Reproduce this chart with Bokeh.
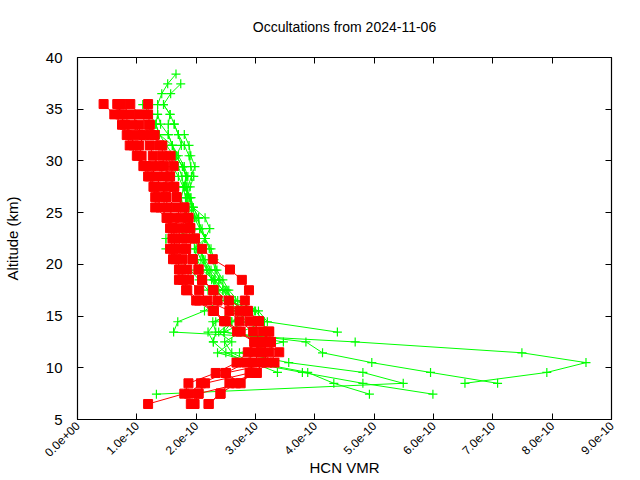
import math
from bokeh.plotting import figure
from bokeh.models import (LinearAxis, Range1d, ColumnDataSource, FixedTicker,
                          CustomJSTickFormatter)
from bokeh.embed import file_html
from bokeh.resources import INLINE

TITLE = "Occultations from 2024-11-06"
X_LABEL = "HCN VMR"
Y_LABEL = "Altitude (km)"
SCALE = 1e-10  # all VMR values below are in units of 1e-10

X_TICKS = [0, 1, 2, 3, 4, 5, 6, 7, 8, 9]
X_TICK_LABELS = ["0.0e+00", "1.0e-10", "2.0e-10", "3.0e-10", "4.0e-10",
                 "5.0e-10", "6.0e-10", "7.0e-10", "8.0e-10", "9.0e-10"]
Y_TICKS = [5, 10, 15, 20, 25, 30, 35, 40]

# ---- red profiles (squares), common altitude grid ----
red_alt = [35.5, 34.5, 33.5, 32.5, 31.5, 30.5, 29.5, 28.5, 27.5, 26.5, 25.5, 24.5,
           23.5, 22.5, 21.5, 20.5, 19.5, 18.5, 17.5, 16.5, 15.5, 14.5, 13.5, 12.5,
           11.5, 10.5, 9.5, 8.5, 7.5, 6.5]
red_a = [0.44, 0.62, 0.75, 0.83, 0.88, 1.00, 1.11, 1.19, 1.28, 1.31, 1.31, 1.50,
         1.56, 1.60, 1.56, 1.61, 1.71, 1.71, 1.83, 2.00, 2.28, 2.47, 2.69, 2.98,
         2.87, 2.68, 2.33, 1.87, 1.80, 1.19]
red_b = [0.67, 0.75, 0.92, 1.12, 1.04, 1.08, 1.24, 1.32, 1.41, 1.49, 1.52, 1.63,
         1.69, 1.74, 1.69, 1.77, 1.85, 1.88, 2.05, 2.19, 2.56, 2.73, 2.96, 3.12,
         2.98, 2.84, 2.50, 2.08, 1.88, 1.91]
red_c = [0.74, 0.89, 1.04, 1.05, 1.22, 1.27, 1.38, 1.46, 1.52, 1.49, 1.67, 1.74,
         1.83, 1.83, 1.83, 1.94, 2.04, 2.10, 2.29, 2.36, 2.73, 2.90, 3.12, 3.26,
         3.09, 2.95, 2.90, 2.15, 2.04, 1.97]
red_d = [0.89, 1.04, 1.20, 1.24, 1.43, 1.43, 1.46, 1.56, 1.63, 1.67, 1.80, 1.87,
         1.90, 1.98, 1.83, 1.94, 2.04, 2.10, 2.29, 2.55, 2.87, 3.06, 3.23, 3.26,
         3.23, 3.11, 3.02, 2.56, 2.41, 2.21]
red_e = [1.19, 1.19, 1.22, 1.30, 1.38, 1.57, 1.62, 1.56, 1.63, 1.67, 1.80, 1.87,
         1.90, 1.98, 2.10, 2.28, 2.57, 2.77, 2.89, 2.82, 2.87, 3.06, 3.23, 3.12,
         3.40, 3.20, 3.02, 2.67, 2.41, 2.21]
red_f = [0.70, 0.72, 0.80, 0.90, 0.95, 1.02, 1.15, 1.22, 1.30, 1.35, 1.40, 1.52,
         1.60, 1.65, 1.62, 1.65, 1.75, 1.78, 1.85, 2.05, 2.30, 2.50, 2.75, 2.98,
         3.09, 3.32, 2.50, 2.75, 2.04, 1.97]

# ---- green profiles (crosses) ----
g1_alt = [38.4, 37.45, 36.5, 35.45, 34.5, 33.55, 32.55, 31.5, 30.5, 29.45, 28.5, 27.5,
          26.45, 25.5, 24.5, 23.45, 22.5, 21.5, 20.45, 19.45, 18.5, 17.5, 16.5, 15.5,
          14.45, 13.45]
g1_val = [1.66, 1.52, 1.42, 1.35, 1.35, 1.40, 1.53, 1.60, 1.66, 1.77, 1.83, 1.80,
          1.88, 1.95, 2.04, 2.06, 2.15, 2.05, 2.12, 2.22, 2.32, 2.45, 2.66, 3.05,
          3.20, 4.38]
g2_alt = [37.45, 36.5, 35.45, 34.5, 33.55, 32.55, 31.5, 30.5, 29.45, 28.5, 27.5,
          26.45, 25.5, 24.5, 23.45, 22.5, 21.5, 20.45, 19.45, 18.5, 17.5, 16.5, 15.5,
          14.45, 13.45, 12.5, 11.45, 10.5, 9.55, 8.5, 7.45]
g2_val = [1.74, 1.57, 1.45, 1.56, 1.63, 1.70, 1.80, 1.88, 1.91, 1.96, 1.90,
          1.85, 1.82, 1.80, 1.85, 1.93, 2.00, 2.08, 2.18, 2.30, 2.38, 2.56, 2.98,
          2.60, 2.47, 3.47, 2.73, 3.56, 4.81, 5.49, 1.33]
g3_alt = [35.45, 34.5, 33.55, 32.55, 31.5, 30.5, 29.45, 28.5, 27.5, 26.45, 25.5,
          24.5, 23.45, 22.5, 21.5, 20.45, 19.45, 18.5, 17.5, 16.5, 15.5, 14.45, 13.45,
          12.5, 11.45, 10.5, 9.55, 8.5, 7.45]
g3_val = [1.10, 1.22, 1.32, 1.38, 1.50, 1.62, 1.70, 1.76, 1.79, 1.75, 1.78,
          1.85, 1.92, 1.97, 2.05, 2.15, 2.25, 2.38, 2.50, 2.62, 2.75, 2.28, 2.33,
          2.29, 2.50, 2.90, 3.79, 4.81, 5.99]
g4_alt = [35.45, 34.5, 33.55, 32.55, 31.5, 30.5, 29.45, 28.5, 27.5, 26.45, 25.5,
          24.5, 23.45, 22.5, 21.5, 20.45, 19.45, 18.5, 17.5, 16.5, 15.5, 14.45, 13.45,
          12.5, 11.45, 10.5, 9.55, 8.5]
g4_val = [1.45, 1.56, 1.53, 1.53, 1.60, 1.66, 1.77, 1.83, 1.81, 1.91, 1.95,
          2.04, 2.06, 1.49, 1.49, 1.75, 1.90, 2.05, 2.20, 2.40, 2.14, 1.69, 1.62,
          4.68, 7.49, 8.57, 7.91, 6.53]
g5_alt = [33.55, 32.55, 31.5, 30.5, 29.45, 28.5, 27.5, 26.45, 25.5, 24.5, 23.45,
          22.5, 21.5, 20.45, 19.45, 18.5, 17.5, 16.5, 15.5, 14.45, 13.45, 12.5, 11.45,
          10.5, 9.55, 8.5]
g5_val = [1.63, 1.70, 1.75, 1.66, 1.77, 1.83, 1.79, 1.91, 1.95, 2.15, 2.23,
          2.15, 1.97, 2.02, 2.10, 2.30, 2.45, 2.56, 2.70, 2.85, 2.47, 3.85, 4.13,
          4.96, 5.95, 7.08]
g6_alt = [34.5, 33.55, 32.55, 31.5, 30.5, 29.45, 28.5, 27.5, 26.45, 25.5, 24.5,
          23.45, 22.5, 21.5, 20.45, 19.45, 18.5, 17.5, 16.5, 15.5, 14.45, 13.45, 12.5,
          11.45, 10.5, 9.55, 8.5, 7.45]
g6_val = [1.35, 1.32, 1.38, 1.60, 1.70, 1.80, 1.86, 1.83, 1.88, 1.92, 2.00,
          2.10, 2.15, 2.22, 2.28, 2.32, 2.40, 2.52, 2.62, 2.80, 2.60, 2.38, 2.60,
          2.36, 3.00, 3.88, 4.32, 4.92]
g7_alt = [32.55, 31.5, 30.5, 29.45, 28.5, 27.5, 26.45, 25.5, 24.5, 23.45, 22.5,
          21.5, 20.45, 19.45, 18.5, 17.5, 16.5, 15.5, 14.45, 13.45, 12.5, 11.45, 10.5,
          9.55]
g7_val = [1.80, 1.88, 1.91, 1.98, 1.92, 1.86, 1.83, 1.88, 1.97, 2.06, 2.15,
          2.25, 2.30, 2.35, 2.45, 2.55, 2.70, 3.00, 3.15, 2.75, 2.48, 2.60, 2.95,
          3.37]
g8_alt = [30.5, 29.45, 28.5, 27.5, 26.45, 25.5, 24.5, 23.45, 22.5, 21.5, 20.45,
          19.45, 18.5, 17.5, 16.5, 15.5, 14.45, 13.45, 12.5]
g8_val = [1.50, 1.60, 1.70, 1.78, 1.82, 1.85, 1.90, 1.95, 2.00, 2.08, 2.12,
          2.18, 2.26, 2.35, 2.48, 2.60, 2.33, 2.20, 2.29]

green_profiles = [(g1_alt, g1_val), (g2_alt, g2_val), (g3_alt, g3_val), (g4_alt, g4_val),
                  (g5_alt, g5_val), (g6_alt, g6_val), (g7_alt, g7_val), (g8_alt, g8_val)]
red_profiles = [red_a, red_b, red_c, red_d, red_e, red_f]

GREEN = "#00ff00"
RED = "#ff0000"
FONT = "Liberation Sans"

FRAME_W, FRAME_H = 534, 362
X_MAX = 9 * SCALE
Y_MIN, Y_MAX = Y_TICKS[0], Y_TICKS[-1]

p = figure(width=640, height=480, output_backend="svg", toolbar_location=None,
           frame_width=FRAME_W, frame_height=FRAME_H,
           x_range=Range1d(0, X_MAX), y_range=Range1d(Y_MIN, Y_MAX),
           min_border_left=75, min_border_right=31, min_border_top=57, min_border_bottom=61)
p.title.visible = False

p.grid.visible = False
p.outline_line_color = "black"
p.outline_line_width = 1.2

for alts, vals in green_profiles:
    src = ColumnDataSource(dict(x=[v * SCALE for v in vals], y=alts))
    p.line("x", "y", source=src, line_color=GREEN, line_width=1)
    p.scatter("x", "y", source=src, marker="cross", size=9, line_color=GREEN, line_width=1.2)

for vals in red_profiles:
    src = ColumnDataSource(dict(x=[v * SCALE for v in vals], y=red_alt))
    p.line("x", "y", source=src, line_color=RED, line_width=1)
    p.scatter("x", "y", source=src, marker="square", size=9, fill_color=RED, line_color=RED)

xt = FixedTicker(ticks=[t * SCALE for t in X_TICKS], minor_ticks=[])
yt = FixedTicker(ticks=Y_TICKS, minor_ticks=[])
blank = CustomJSTickFormatter(code="return '';")

xa = p.xaxis[0]
xa.ticker = xt
xa.major_label_overrides = {t * SCALE: s for t, s in zip(X_TICKS, X_TICK_LABELS)}
xa.major_label_orientation = math.pi / 4
xa.major_label_text_font = FONT
xa.major_label_text_font_size = "12px"
xa.major_label_text_color = "black"
xa.major_label_standoff = 4
xa.axis_label = X_LABEL
xa.axis_label_text_font = FONT
xa.axis_label_text_font_size = "15px"
xa.axis_label_text_font_style = "normal"
xa.axis_label_text_color = "black"
xa.axis_label_standoff = -5

ya = p.yaxis[0]
ya.ticker = yt
ya.major_label_text_font = FONT
ya.major_label_text_font_size = "15px"
ya.major_label_text_color = "black"
ya.axis_label = Y_LABEL
ya.axis_label_text_font = FONT
ya.axis_label_text_font_size = "15px"
ya.axis_label_text_font_style = "normal"
ya.axis_label_text_color = "black"
ya.axis_label_standoff = 22
ya.major_label_standoff = 15

for ax in (xa, ya):
    ax.axis_line_color = None
    ax.major_tick_in = 6
    ax.major_tick_out = 0
    ax.major_tick_line_color = "black"
    ax.minor_tick_line_color = None

# mirrored ticks on top (carrying the chart title) and right (no labels)
top = LinearAxis(ticker=xt, formatter=blank, axis_line_color=None,
                 major_tick_in=6, major_tick_out=0, minor_tick_line_color=None,
                 major_label_standoff=0,
                 axis_label=TITLE, axis_label_text_font=FONT,
                 axis_label_text_font_size="14px", axis_label_text_font_style="normal",
                 axis_label_text_color="black", axis_label_standoff=23)
right = LinearAxis(ticker=yt, formatter=blank, axis_line_color=None,
                   major_tick_in=6, major_tick_out=0, minor_tick_line_color=None,
                   major_label_standoff=0)
p.add_layout(top, "above")
p.add_layout(right, "right")

open("out.html", "w").write(file_html(p, INLINE))
